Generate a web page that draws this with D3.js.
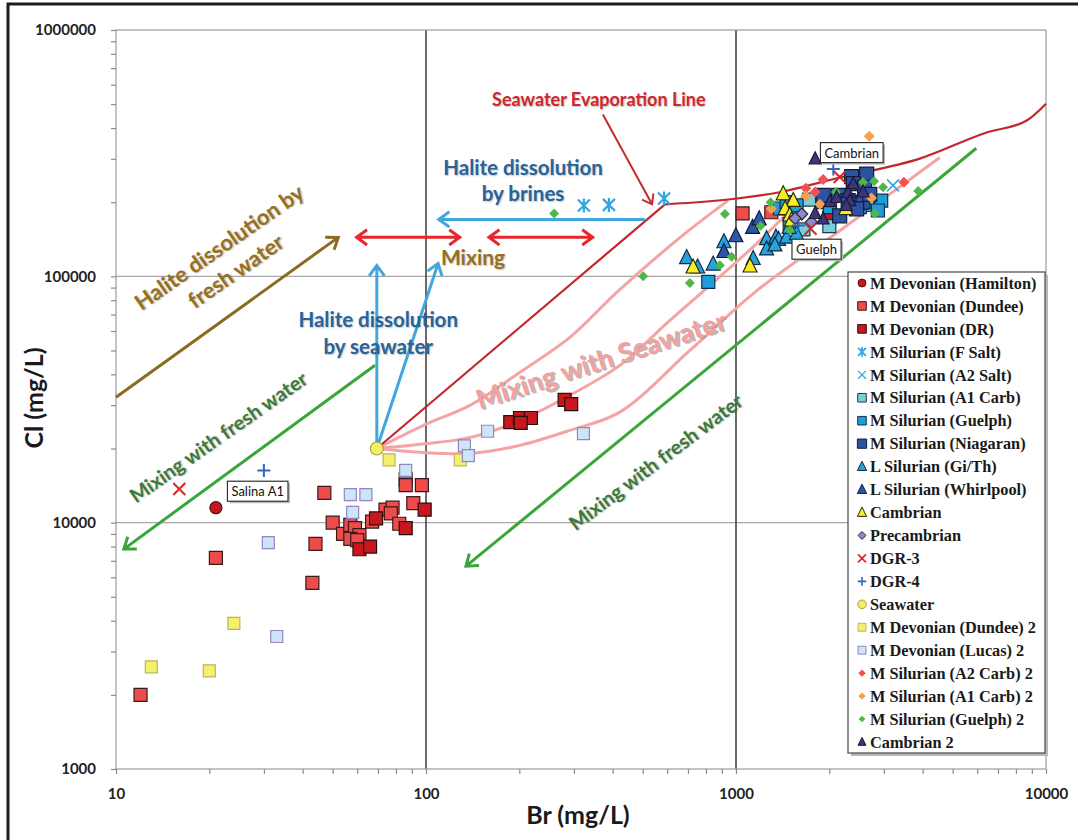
<!DOCTYPE html>
<html>
<head>
<meta charset="utf-8">
<script src="https://cdn.jsdelivr.net/npm/d3@7"></script>
<style>
  body { margin: 0; background: #fff; }
  svg { display: block; }
  .ann { text-shadow: 1px 1px 1.5px rgba(0,0,0,0.25); }
</style>
</head>
<body>
<div id="chart"></div>
<script>
// ---- data (Br mg/L, Cl mg/L) ----
const hamilton = [[21, 11500]];
const dundee = [[47,13200],[21,7200],[44,8200],[43,5700],[12,2000],[50,10000],[54,9000],[57,9800],[59,9500],[61,8900],[57,8600],[60,8500],[67,10100],[74,11300],[78,11500],[77,10900],[82,9900],[91,12000],[97,14200],[86,15000],[86,14200],[1050,180000],[1300,182000]];
const devDR = [[61,7800],[66,8000],[69,10400],[86,9500],[99,11300],[187,25600],[201,26600],[218,26600],[202,25400],[280,31500],[294,30300],[2000,173000]];
const fSalt = [[323,194000],[389,195000],[586,207000]];
const a2Salt = [[3210,234000]];
const a1Carb = [[1650,155000],[2000,160000],[2650,195000],[1720,205000]];
const guelph = [[1385,188500],[1456,200000],[1568,194000],[1900,200000],[2010,191000],[2508,191000],[2560,200000],[1490,163000],[814,95000],[2940,203000],[2870,185000]];
const niagaran = [[2360,254000],[2640,260000],[2390,238000],[2140,213000],[2300,203000],[2570,200000],[1910,213000],[2160,176000],[2600,230000],[2450,188000],[2700,215000]];
const giTh = [[693,119000],[752,109000],[844,112000],[914,138000],[1136,118000],[1255,142000],[1255,129000],[1345,144000],[1372,141000],[1456,144000],[1335,134000],[1568,149000],[1484,158000]];
const whirlpool = [[914,126000],[999,146000],[1131,158000],[1188,171000]];
const cambrian = [[727,109000],[1110,110000],[1420,216000],[1530,203000],[1440,188000],[1490,177000],[1510,169000],[2260,188000]];
const precambrian = [[1630,179000],[1750,166000],[1550,172000]];
const dgr3 = [[16,13700],[1740,156000],[2160,253000]];
const dgr4 = [[30,16300],[2060,273000],[1590,161000]];
const seawater = [[69.4,20000]];
const dundee2 = [[24,3900],[13,2600],[20,2500],[76,18000],[129,18000]];
const lucas2 = [[57,13000],[64,13000],[58,11000],[31,8300],[33,3450],[86,16300],[158,23500],[133,20500],[137,18700],[322,23000]];
const a2Carb2 = [[1910,247000],[1800,220000],[3480,241000],[1680,228000]];
const a1Carb2 = [[2690,370000],[2735,208000],[1680,212000],[1300,188000],[1865,196000]];
const guelph2 = [[259,180000],[502,100000],[710,94000],[887,111000],[968,120000],[921,179000],[1200,160000],[1293,200000],[2100,220000],[2570,241000],[2790,243000],[2980,230000],[3870,222000],[2800,180000],[1492,154000]];
const cambrian2 = [[1800,300000],[2010,201000],[2110,209000],[2300,219000],[2330,203000],[2270,194000],[2390,238000],[2570,220000],[1910,171000],[1800,180000]];

// annotation lines
const evapStraight = [[69.4,20000],[590,196000]];
const evapCurve = [[590,196000],[1007,207000],[1382,219500],[2163,252000],[3916,300600],[6400,383000],[8670,429000],[10000,502000]];
const mixUpper = [[69.4,20000],[98.6,24900],[139,30000],[201,40800],[291,56500],[419,87700],[679,148000],[942,203000]];
const mixMiddle = [[69.4,20000],[95.7,20800],[139,22200],[201,26000],[291,32900],[422,43500],[612,66300],[824,91900],[1196,140000],[1682,217000]];
const mixLower = [[69.4,20000],[95.7,19300],[139,19100],[201,20600],[291,23700],[422,28100],[710,50000],[1170,87700],[2166,153500],[4543,303500]];
const freshLeft = [[68.5,43560],[10.6,7810]];
const freshRight = [[5960,331000],[134.6,6660]];
const brownArrow = [[10,32280],[52.1,143900]];
const mixArrow1 = [[59.7,144000],[128.5,144000]];
const mixArrow2 = [[159.6,144000],[345,144000]];
const brineArrow = [[508,170200],[110,170200]];
const seaArrowUp = [[69.4,20000],[69.4,110700]];
const seaArrowDiag = [[69.4,20000],[109.4,112700]];
const evapPointer = [[372,453500],[536,196000]];

const xMajor = [10, 100, 1000, 10000];
const yMajor = [1000, 10000, 100000, 1000000];

const W = 1078, H = 840;
const svg = d3.select("#chart").append("svg").attr("width", W).attr("height", H)
  .style("font-family", "Lato, 'Open Sans', sans-serif");
svg.append("rect").attr("width", W).attr("height", H).attr("fill", "#fff");

const x = d3.scaleLog().domain([10, 10000]).range([116, 1046]);
const y = d3.scaleLog().domain([1000, 1000000]).range([769, 30]);
const px = d => [x(d[0]), y(d[1])];

// outer frame
svg.append("path").attr("d", "M8,840V4H1078").attr("fill", "none").attr("stroke", "#1c1c1c").attr("stroke-width", 3);

// grid
svg.append("g").selectAll("line").data([10000, 100000]).enter().append("line")
  .attr("x1", 116).attr("x2", 1046).attr("y1", d => y(d)).attr("y2", d => y(d))
  .attr("stroke", "#a8a8a8").attr("stroke-width", 1.2);
svg.append("g").selectAll("line").data([100, 1000]).enter().append("line")
  .attr("y1", 30).attr("y2", 769).attr("x1", d => x(d)).attr("x2", d => x(d))
  .attr("stroke", "#3a3a3a").attr("stroke-width", 1.5);
svg.append("rect").attr("x", 116).attr("y", 30).attr("width", 930).attr("height", 739)
  .attr("fill", "none").attr("stroke", "#9c9c9c").attr("stroke-width", 1.2);

// axes
const allTicks = dom => {
  const t = [];
  for (let d = dom[0]; d < dom[1]; d *= 10) for (let m = 1; m < 10; m++) t.push(d * m);
  t.push(dom[1]);
  return t;
};
const xAxis = svg.append("g").attr("transform", "translate(0,769)")
  .call(d3.axisBottom(x).tickValues(allTicks([10, 10000])).tickSize(5).tickPadding(14)
    .tickFormat(d => xMajor.includes(d) ? d : ""));
const yAxis = svg.append("g").attr("transform", "translate(116,0)")
  .call(d3.axisLeft(y).tickValues(allTicks([1000, 1000000])).tickSize(5).tickPadding(15)
    .tickFormat(d => yMajor.includes(d) ? d : ""));
[xAxis, yAxis].forEach(a => {
  a.select(".domain").remove();
  a.selectAll(".tick line").attr("stroke", "#8c8c8c").attr("stroke-width", 1.2);
  a.selectAll(".tick text").attr("fill", "#222").style("font-size", "15px").style("font-weight", "bold")
    .style("font-family", "Lato, sans-serif");
});

svg.append("text").attr("x", 578).attr("y", 824).attr("text-anchor", "middle")
  .style("font-size", "25px").style("font-weight", "bold").attr("fill", "#1a1a1a").text("Br (mg/L)");
svg.append("text").attr("transform", "translate(43,398) rotate(-90)").attr("text-anchor", "middle")
  .style("font-size", "25px").style("font-weight", "bold").attr("fill", "#1a1a1a").text("Cl (mg/L)");

// ---- annotation lines ----
const gAnn = svg.append("g");
const lineGen = d3.line().x(d => x(d[0])).y(d => y(d[1]));

function arrow(pts, color, width, both, head) {
  const a = px(pts[0]), b = px(pts[1]);
  const L = head || 13, phi = Math.PI / 5;
  const headPath = (from, tip) => {
    const ang = Math.atan2(tip[1] - from[1], tip[0] - from[0]);
    const p1 = [tip[0] - L * Math.cos(ang - phi), tip[1] - L * Math.sin(ang - phi)];
    const p2 = [tip[0] - L * Math.cos(ang + phi), tip[1] - L * Math.sin(ang + phi)];
    return `M${p1}L${tip}L${p2}`;
  };
  let d = `M${a}L${b}` + headPath(a, b);
  if (both) d += headPath(b, a);
  gAnn.append("path").attr("d", d).attr("fill", "none").attr("stroke", color)
    .attr("stroke-width", width).attr("stroke-linejoin", "miter").attr("stroke-linecap", "butt");
}

[mixUpper, mixMiddle, mixLower].forEach(m => {
  gAnn.append("path").attr("d", lineGen.curve(d3.curveCatmullRom)(m)).attr("fill", "none")
    .attr("stroke", "#f4a4a4").attr("stroke-width", 3);
});
lineGen.curve(d3.curveLinear);
gAnn.append("path").attr("d", lineGen(evapStraight)).attr("fill", "none").attr("stroke", "#c1272d").attr("stroke-width", 2.2);
gAnn.append("path").attr("d", d3.line().x(d => x(d[0])).y(d => y(d[1])).curve(d3.curveMonotoneX)(evapCurve))
  .attr("fill", "none").attr("stroke", "#c1272d").attr("stroke-width", 2.2);

arrow(freshLeft, "#3aa63a", 3);
arrow(freshRight, "#3aa63a", 3);
arrow(brownArrow, "#8b6b1f", 3);
arrow(mixArrow1, "#e8262b", 3, true);
arrow(mixArrow2, "#e8262b", 3, true);
arrow(brineArrow, "#42a7de", 3);
arrow(seaArrowUp, "#42a7de", 3);
arrow(seaArrowDiag, "#42a7de", 3);
arrow(evapPointer, "#c62a2f", 2, false, 11);

// ---- markers ----
function shapePath(shape, s) {
  const h = s / 2;
  switch (shape) {
    case "square": return `M${-h},${-h}H${h}V${h}H${-h}Z`;
    case "circle": return d3.symbol(d3.symbolCircle, Math.PI * h * h)();
    case "triangle": return `M0,${-0.58 * s}L${h},${0.42 * s}L${-h},${0.42 * s}Z`;
    case "diamond": return `M0,${-h}L${h},0L0,${h}L${-h},0Z`;
    case "x": return `M${-h},${-h}L${h},${h}M${-h},${h}L${h},${-h}`;
    case "plus": return `M${-h},0H${h}M0,${-h}V${h}`;
    case "asterisk": return `M${-h},${-h}L${h},${h}M${-h},${h}L${h},${-h}M0,${-h - 1}V${h + 1}`;
  }
}

const series = [
  { name: "M Devonian (Hamilton)", data: hamilton, shape: "circle", fill: "#c8161d", stroke: "#4a1010", size: 12 },
  { name: "M Devonian (Dundee)", data: dundee, shape: "square", fill: "#ee4b4b", stroke: "#3a1a1a", size: 13 },
  { name: "M Devonian (DR)", data: devDR, shape: "square", fill: "#c8171e", stroke: "#2a0d0d", size: 13 },
  { name: "M Silurian (F Salt)", data: fSalt, shape: "asterisk", fill: "none", stroke: "#2aa8e2", size: 12, line: 2.2 },
  { name: "M Silurian (A2 Salt)", data: a2Salt, shape: "x", fill: "none", stroke: "#2aa8e2", size: 12, line: 1.5 },
  { name: "M Silurian (A1 Carb)", data: a1Carb, shape: "square", fill: "#78cfdc", stroke: "#1f3a44", size: 13 },
  { name: "M Silurian (Guelph)", data: guelph, shape: "square", fill: "#1e9ddb", stroke: "#12304a", size: 13 },
  { name: "M Silurian (Niagaran)", data: niagaran, shape: "square", fill: "#2c52a2", stroke: "#101c3a", size: 14 },
  { name: "L Silurian (Gi/Th)", data: giTh, shape: "triangle", fill: "#27a2dc", stroke: "#102a40", size: 14 },
  { name: "L Silurian (Whirlpool)", data: whirlpool, shape: "triangle", fill: "#2d55a8", stroke: "#0f1a38", size: 14 },
  { name: "Cambrian", data: cambrian, shape: "triangle", fill: "#f6ee1e", stroke: "#2a2a10", size: 14 },
  { name: "Precambrian", data: precambrian, shape: "diamond", fill: "#8e88c8", stroke: "#2a2840", size: 12 },
  { name: "DGR-3", data: dgr3, shape: "x", fill: "none", stroke: "#d6262a", size: 12, line: 2 },
  { name: "DGR-4", data: dgr4, shape: "plus", fill: "none", stroke: "#3566c4", size: 13, line: 2 },
  { name: "Seawater", data: seawater, shape: "circle", fill: "#f3ee6a", stroke: "#a8a436", size: 13 },
  { name: "M Devonian (Dundee) 2", data: dundee2, shape: "square", fill: "#f2f06c", stroke: "#b8b85a", size: 12 },
  { name: "M Devonian (Lucas) 2", data: lucas2, shape: "square", fill: "#cde6f7", stroke: "#9484c4", size: 12 },
  { name: "M Silurian (A2 Carb) 2", data: a2Carb2, shape: "diamond", fill: "#ee5252", stroke: "none", size: 11 },
  { name: "M Silurian (A1 Carb) 2", data: a1Carb2, shape: "diamond", fill: "#f4a04e", stroke: "none", size: 11 },
  { name: "M Silurian (Guelph) 2", data: guelph2, shape: "diamond", fill: "#4fb848", stroke: "none", size: 10 },
  { name: "Cambrian 2", data: cambrian2, shape: "triangle", fill: "#3d3578", stroke: "#1c1838", size: 12 }
];

const gPts = svg.append("g");
const drawOrder = series.filter(s => s.name !== "Seawater").concat(series.filter(s => s.name === "Seawater"));
drawOrder.forEach(s => {
  gPts.append("g").selectAll("path").data(s.data).enter().append("path")
    .attr("transform", d => `translate(${x(d[0])},${y(d[1])})`)
    .attr("d", shapePath(s.shape, s.size))
    .attr("fill", s.fill).attr("stroke", s.stroke).attr("stroke-width", s.line || 1.2);
});

// ---- annotation text ----
function label(pos, rot, lines, color, size, lh, extra) {
  const p = px(pos);
  const g = svg.append("g").attr("transform", `translate(${p[0]},${p[1]}) rotate(${rot})`);
  const n = lines.length;
  lines.forEach((t, i) => {
    const txt = g.append("text").attr("class", extra ? null : "ann").attr("text-anchor", "middle").attr("dy", "0.35em")
      .attr("y", (i - (n - 1) / 2) * lh)
      .style("font-size", size + "px").style("font-weight", "bold").attr("fill", color).text(t);
    if (extra) extra(txt);
  });
  return g;
}
label([361, 521700], 0, ["Seawater Evaporation Line"], "#d1262c", 18, 0);
label([205.6, 244000], 0, ["Halite dissolution", "by brines"], "#25649c", 20.5, 26);
label([70.1, 58700], 0, ["Halite dissolution", "by seawater"], "#25649c", 20.5, 28);
label([141.8, 119300], 0, ["Mixing"], "#957020", 21, 0);
label([22.9, 117100], -35, ["Halite dissolution by", "fresh water"], "#957020", 22, 29);
label([21.4, 22210], -35, ["Mixing with fresh water"], "#3c7a3c", 20, 0);
label([551.8, 17590], -37, ["Mixing with fresh water"], "#3c7a3c", 20, 0);
// shadowed pink label
const pinkPos = [366.8, 45600];
label(pinkPos, -18, ["Mixing with Seawater"], "#9a9a9a", 27, 0, t => t.attr("x", 1.5).attr("y", 1.5).attr("opacity", 0.7));
label(pinkPos, -18, ["Mixing with Seawater"], "#f3a0a0", 27, 0, t => t);

// boxed callouts
function callout(pos, txt) {
  const p = px(pos);
  const g = svg.append("g").attr("transform", `translate(${p[0]},${p[1]})`);
  const t = g.append("text").attr("text-anchor", "middle").attr("dy", "0.35em")
    .style("font-size", "13px").attr("fill", "#111").text(txt);
  const bb = t.node().getBBox();
  g.insert("rect", "text").attr("x", bb.x - 4 + 2).attr("y", bb.y - 2 + 2).attr("width", bb.width + 8).attr("height", bb.height + 4).attr("fill", "#bbb");
  g.insert("rect", "text").attr("x", bb.x - 4).attr("y", bb.y - 2).attr("width", bb.width + 8).attr("height", bb.height + 4)
    .attr("fill", "#fff").attr("stroke", "#333").attr("stroke-width", 1.2);
}
callout([28.65, 13360], "Salina A1");
callout([2363, 316600], "Cambrian");
callout([1819, 128300], "Guelph");

// ---- legend ----
const lg = svg.append("g").attr("transform", "translate(848,272)");
lg.append("rect").attr("x", 3).attr("y", 3).attr("width", 197).attr("height", 481).attr("fill", "#b8b8b8");
lg.append("rect").attr("width", 197).attr("height", 481).attr("fill", "#fff").attr("stroke", "#4a4a4a").attr("stroke-width", 1.2);
const rows = lg.selectAll("g.row").data(series).enter().append("g")
  .attr("transform", (d, i) => `translate(14,${11 + i * 22.95})`);
rows.append("path").attr("d", d => shapePath(d.shape, d.size * 0.66))
  .attr("fill", d => d.fill).attr("stroke", d => d.stroke).attr("stroke-width", d => d.line ? d.line * 0.8 : 1);
rows.append("text").attr("x", 8).attr("dy", "0.35em")
  .style("font-family", "'Liberation Serif', 'DejaVu Serif', serif").style("font-weight", "bold").style("font-size", "16.3px")
  .attr("fill", "#1a1a1a").text(d => d.name);
</script>
</body>
</html>
